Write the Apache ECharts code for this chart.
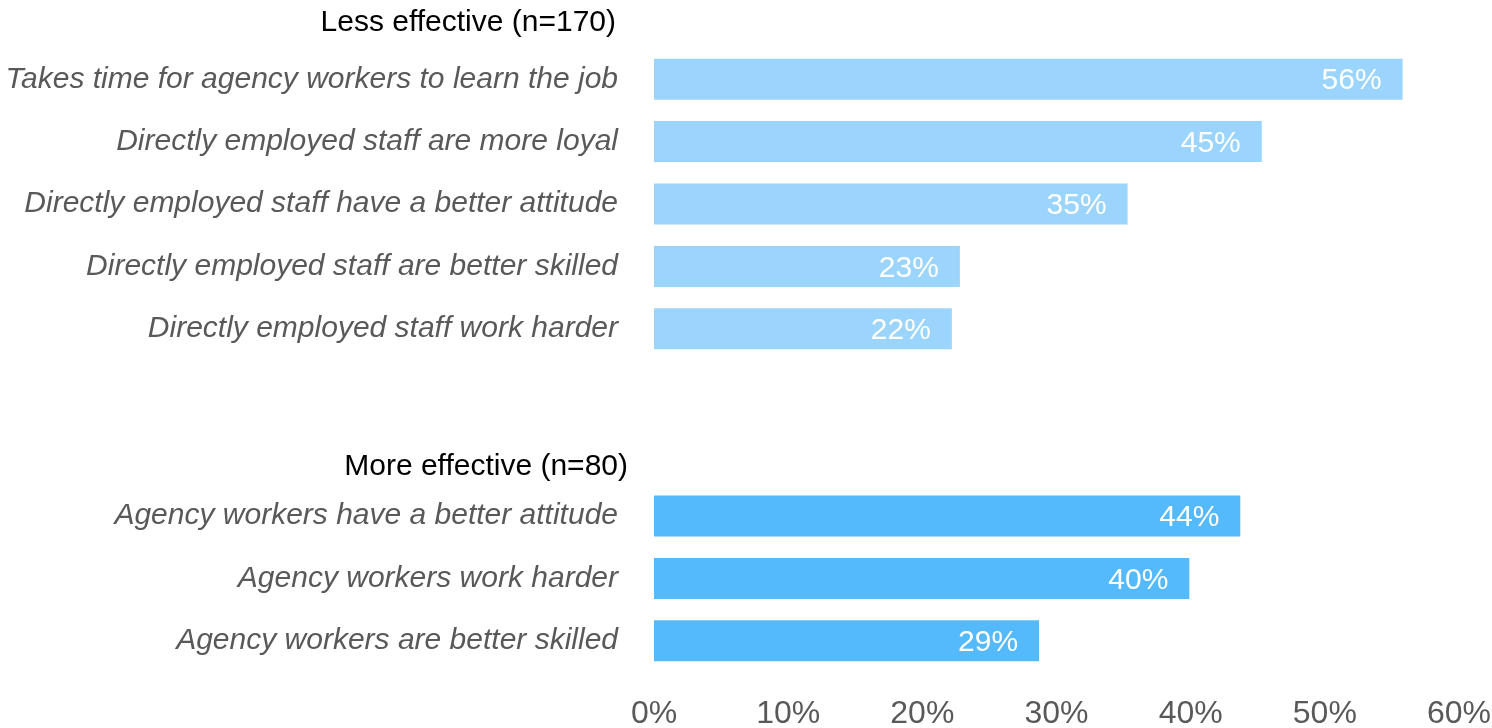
<!DOCTYPE html>
<html>
<head>
<meta charset="utf-8">
<script src="https://cdn.jsdelivr.net/npm/echarts@6/dist/echarts.min.js"></script>
<style>
  html, body { margin: 0; padding: 0; background: #fff; }
  #chart { width: 1492px; height: 728px; }
</style>
</head>
<body>
<div id="chart"></div>
<script>
// two groups on one category axis, with two empty rows between them
const lessLabels = [
  "Takes time for agency workers to learn the job",
  "Directly employed staff are more loyal",
  "Directly employed staff have a better attitude",
  "Directly employed staff are better skilled",
  "Directly employed staff work harder",
];
const lessValues = [55.8, 45.3, 35.3, 22.8, 22.2];

const moreLabels = [
  "Agency workers have a better attitude",
  "Agency workers work harder",
  "Agency workers are better skilled",
];
const moreValues = [43.7, 39.9, 28.7];

const groupTitles = ["Less effective (n=170)", "More effective (n=80)"];
const tickValues = [0, 10, 20, 30, 40, 50, 60];

const gapRows = 2;
const categories = [...lessLabels, ...Array(gapRows).fill(""), ...moreLabels];
const lessData = [...lessValues, ...Array(gapRows + moreValues.length).fill(null)];
const moreData = [...Array(lessValues.length + gapRows).fill(null), ...moreValues];

const font = "Liberation Sans, Arial, sans-serif";
const barLabel = {
  show: true,
  position: "insideRight",
  distance: 21,
  color: "#fff",
  fontSize: 30,
  fontFamily: font,
  offset: [0, 2],
  formatter: (p) => Math.round(p.value) + "%",
};

const chart = echarts.init(document.getElementById("chart"));
chart.setOption({
  animation: false,
  grid: { left: 654, right: 33, top: 48, bottom: 56, outerBoundsMode: "none" },
  xAxis: {
    type: "value",
    min: tickValues[0],
    max: tickValues[tickValues.length - 1],
    interval: 10,
    splitLine: { show: false },
    axisLine: { show: false },
    axisTick: { show: false },
    axisLabel: {
      formatter: "{value}%",
      color: "#595959",
      fontSize: 32,
      fontFamily: font,
      margin: 26,
    },
  },
  yAxis: {
    type: "category",
    data: categories,
    inverse: true,
    axisLine: { show: false },
    axisTick: { show: false },
    axisLabel: {
      color: "#595959",
      fontSize: 30,
      fontStyle: "italic",
      fontFamily: font,
      margin: 36,
    },
  },
  series: [
    {
      type: "bar",
      data: lessData,
      barWidth: 41,
      barGap: "-100%",
      itemStyle: { color: "#9BD5FD" },
      label: barLabel,
    },
    {
      type: "bar",
      data: moreData,
      barWidth: 41,
      itemStyle: { color: "#55BAFB" },
      label: barLabel,
    },
  ],
  graphic: [
    {
      type: "text",
      right: 1492 - 616,
      top: 8,
      style: { text: groupTitles[0], fill: "#000", font: "30px " + font },
    },
    {
      type: "text",
      right: 1492 - 628,
      top: 452,
      style: { text: groupTitles[1], fill: "#000", font: "30px " + font },
    },
  ],
});
</script>
</body>
</html>
